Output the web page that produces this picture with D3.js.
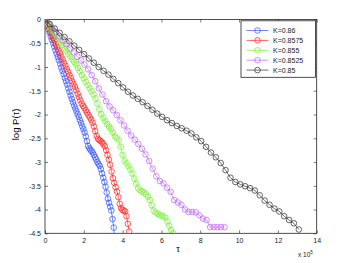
<!DOCTYPE html>
<html>
<head>
<meta charset="utf-8">
<script src="https://cdn.jsdelivr.net/npm/d3@7"></script>
<style>
  body { margin: 0; background: #fff; }
  text { font-family: "Liberation Sans", Arial, sans-serif; }
</style>
</head>
<body>
<svg id="chart"></svg>
<script>
// canvas
var width = 349,
    height = 263,
    margin = {left: 45, right: 32.3, top: 19.5, bottom: 29.7};

// legend labels
var labels = ["K=0.86", "K=0.8575", "K=0.855", "K=0.8525", "K=0.85"];
var colors = ["#3355ff", "#ff2424", "#78f030", "#c266f5", "#333333"];

// tau bin width of each series (x 10^5)
var steps = [0.06, 0.07, 0.1, 0.185, 0.2515];

// log P(tau) read at every bin, one list per series
var blue = [0, -0.05, -0.13, -0.21, -0.28, -0.36, -0.43, -0.50, -0.57, -0.65,
  -0.72, -0.79, -0.86, -0.93, -1.01, -1.08, -1.15, -1.23, -1.30, -1.37,
  -1.45, -1.52, -1.60, -1.67, -1.74, -1.81, -1.87, -1.93, -1.99, -2.05,
  -2.12, -2.18, -2.25, -2.31, -2.38, -2.46, -2.56, -2.66, -2.71, -2.74,
  -2.77, -2.80, -2.85, -2.90, -2.95, -3.00, -3.04, -3.08, -3.15, -3.24,
  -3.33, -3.42, -3.52, -3.64, -3.77, -3.86, -3.94, -4.02, -4.20, -4.38, -4.70];

var red = [0, -0.06, -0.13, -0.19, -0.26, -0.32, -0.39, -0.45, -0.52, -0.58,
  -0.65, -0.71, -0.78, -0.84, -0.91, -0.97, -1.04, -1.10, -1.17, -1.23,
  -1.30, -1.36, -1.42, -1.49, -1.56, -1.63, -1.70, -1.77, -1.82, -1.86,
  -1.91, -1.96, -2.01, -2.06, -2.11, -2.17, -2.25, -2.35, -2.45, -2.51,
  -2.54, -2.56, -2.59, -2.62, -2.67, -2.75, -2.85, -2.95, -3.06, -3.20,
  -3.34, -3.44, -3.53, -3.62, -3.74, -3.88, -3.97, -4.01, -4.02, -4.04,
  -4.14, -4.30, -4.46];

var green = [0, -0.06, -0.12, -0.18, -0.24, -0.30, -0.36, -0.42, -0.48, -0.54,
  -0.60, -0.66, -0.72, -0.78, -0.84, -0.89, -0.95, -1.02, -1.09, -1.17,
  -1.24, -1.31, -1.38, -1.45, -1.51, -1.58, -1.66, -1.77, -1.89, -1.99,
  -2.07, -2.14, -2.20, -2.26, -2.31, -2.38, -2.46, -2.50, -2.54, -2.68,
  -2.85, -2.97, -3.03, -3.09, -3.16, -3.24, -3.35, -3.46, -3.55, -3.60,
  -3.62, -3.64, -3.68, -3.73, -3.80, -3.91, -4.02, -4.06, -4.09, -4.11,
  -4.13, -4.14, -4.17, -4.25, -4.34, -4.43, -4.50];

var purple = [0, -0.08, -0.17, -0.26, -0.35, -0.44, -0.52, -0.61, -0.69, -0.78,
  -0.86, -0.95, -1.05, -1.17, -1.30, -1.45, -1.58, -1.72, -1.83, -1.91,
  -2.01, -2.12, -2.23, -2.34, -2.44, -2.53, -2.62, -2.72, -2.84, -2.98,
  -3.14, -3.30, -3.40, -3.45, -3.54, -3.63, -3.80, -3.85, -3.90, -4.00,
  -4.05, -4.05, -4.06, -4.12, -4.19, -4.22, -4.37, -4.37, -4.37, -4.37, -4.37];

var black = [0, -0.10, -0.19, -0.28, -0.37, -0.46, -0.55, -0.64, -0.73, -0.82,
  -0.91, -1.00, -1.08, -1.16, -1.25, -1.34, -1.43, -1.52, -1.60, -1.67,
  -1.74, -1.82, -1.90, -1.98, -2.05, -2.12, -2.18, -2.24, -2.29, -2.34,
  -2.40, -2.48, -2.56, -2.68, -2.80, -2.90, -3.02, -3.17, -3.33, -3.42,
  -3.47, -3.51, -3.55, -3.60, -3.70, -3.81, -3.90, -3.98, -4.04, -4.14,
  -4.22, -4.29, -4.42];

var xTicks = [0, 2, 4, 6, 8, 10, 12, 14];
var yTicks = [0, -0.5, -1, -1.5, -2, -2.5, -3, -3.5, -4, -4.5];

var seriesValues = [blue, red, green, purple, black];

var series = seriesValues.map(function(vals, k) {
  return {
    label: labels[k],
    color: colors[k],
    points: vals.map(function(v, i) { return [i * steps[k], v]; })
  };
});

var svg = d3.select("#chart")
    .attr("width", width)
    .attr("height", height);

var x = d3.scaleLinear().domain([0, 14]).range([margin.left, width - margin.right]);
var y = d3.scaleLinear().domain([-4.5, 0]).range([height - margin.bottom, margin.top]);

svg.append("clipPath").attr("id", "plotClip")
  .append("rect")
    .attr("x", x(0)).attr("y", y(0))
    .attr("width", x(14) - x(0)).attr("height", y(-4.5) - y(0));

// axes, MATLAB style: ticks inside, box all round
var fmt = function(d) { return String(d); };

svg.append("g")
    .attr("transform", "translate(0," + y(-4.5) + ")")
    .call(d3.axisBottom(x).tickValues(xTicks).tickSize(-3).tickPadding(5).tickFormat(fmt))
    .call(function(g) { g.select(".domain").remove(); });

svg.append("g")
    .attr("transform", "translate(0," + y(0) + ")")
    .call(d3.axisTop(x).tickValues(xTicks).tickSize(-3).tickFormat(""))
    .call(function(g) { g.select(".domain").remove(); });

svg.append("g")
    .attr("transform", "translate(" + x(0) + ",0)")
    .call(d3.axisLeft(y).tickValues(yTicks).tickSize(-3).tickPadding(4).tickFormat(fmt))
    .call(function(g) { g.select(".domain").remove(); });

svg.append("g")
    .attr("transform", "translate(" + x(14) + ",0)")
    .call(d3.axisRight(y).tickValues(yTicks).tickSize(-3).tickFormat(""))
    .call(function(g) { g.select(".domain").remove(); });

svg.selectAll(".tick line").attr("stroke", "#222").attr("stroke-width", 0.6);
svg.selectAll(".tick text").attr("font-size", 7).attr("fill", "#222")
    .style("font-family", "'Liberation Sans', Arial, sans-serif");

svg.append("rect")
    .attr("x", x(0)).attr("y", y(0))
    .attr("width", x(14) - x(0)).attr("height", y(-4.5) - y(0))
    .attr("fill", "none")
    .attr("stroke", "#222")
    .attr("stroke-width", 0.8);

// curves
var line = d3.line()
    .x(function(d) { return x(d[0]); })
    .y(function(d) { return y(d[1]); });

var plot = svg.append("g").attr("clip-path", "url(#plotClip)");

var sg = plot.selectAll(".series")
    .data(series)
    .enter().append("g")
    .attr("class", "series");

sg.append("path")
    .attr("d", function(d) { return line(d.points); })
    .attr("fill", "none")
    .attr("stroke", function(d) { return d.color; })
    .attr("stroke-width", 0.7);

sg.selectAll("circle")
    .data(function(d) { return d.points.map(function(p) { return {p: p, c: d.color}; }); })
    .enter().append("circle")
    .attr("cx", function(d) { return x(d.p[0]); })
    .attr("cy", function(d) { return y(d.p[1]); })
    .attr("r", 2.8)
    .attr("fill", "none")
    .attr("stroke", function(d) { return d.c; })
    .attr("stroke-width", 0.75);

// axis labels
svg.append("text")
    .attr("x", 178).attr("y", 252)
    .attr("text-anchor", "middle")
    .attr("font-size", 9)
    .text("τ");

svg.append("text")
    .attr("transform", "translate(18.5," + ((y(0) + y(-4.5)) / 2 - 2) + ") rotate(-90)")
    .attr("text-anchor", "middle")
    .attr("font-size", 9.5)
    .text("log P(τ)");

var mult = svg.append("text")
    .attr("x", 298).attr("y", 257)
    .attr("font-size", 6.5)
    .attr("fill", "#222");
mult.append("tspan").text("x 10");
mult.append("tspan").attr("dy", -3).attr("font-size", 4.5).text("5");

// legend
var legend = svg.append("g");
legend.append("rect")
    .attr("x", 241).attr("y", 20.8)
    .attr("width", 74.5).attr("height", 56.5)
    .attr("fill", "#fff")
    .attr("stroke", "#222")
    .attr("stroke-width", 0.8);

var li = legend.selectAll(".item")
    .data(series)
    .enter().append("g")
    .attr("transform", function(d, i) { return "translate(0," + (30.5 + i * 9.9) + ")"; });

li.append("line")
    .attr("x1", 246.5).attr("x2", 268.5)
    .attr("stroke", function(d) { return d.color; })
    .attr("stroke-width", 0.7);

li.append("circle")
    .attr("cx", 257.5).attr("r", 2.8)
    .attr("fill", "none")
    .attr("stroke", function(d) { return d.color; })
    .attr("stroke-width", 0.75);

li.append("text")
    .attr("x", 273).attr("dy", "0.35em")
    .attr("font-size", 7)
    .attr("fill", "#222")
    .text(function(d) { return d.label; });
</script>
</body>
</html>
